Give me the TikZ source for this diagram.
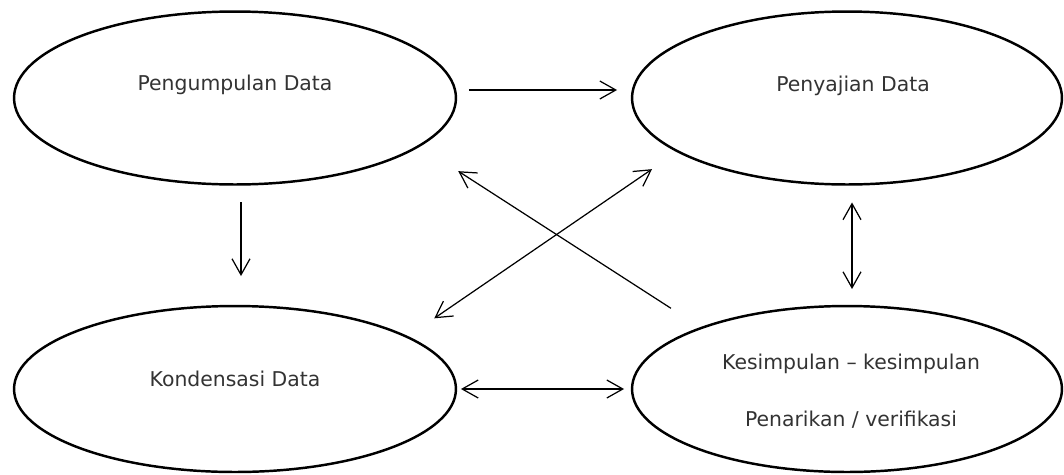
\documentclass[tikz,border=0pt]{standalone}
\usepackage{fontspec}
\setmainfont{DejaVu Sans}
\usetikzlibrary{shapes.geometric, arrows.meta, calc, positioning}

\begin{document}
\begin{tikzpicture}[
		x=0.02cm, y=-0.02cm,
		>={Straight Barb[length=3.2mm,width=3.6mm]},
		proses/.style={ellipse, draw, line width=1.4pt, inner sep=0pt, outer sep=0pt},
		teks/.style={font=\fontsize{11.6}{13.5}\selectfont, text=black!80, align=center},
		panah/.style={->, line width=0.7pt}
		]
		
		\useasboundingbox (0,0) rectangle (1064,474);
		
		% ==========================================
		% ELLIPSES
		% ==========================================
		\node[proses, minimum width=8.84cm, minimum height=3.46cm] (kumpul) at (235,98) {};
		\node[proses, minimum width=8.6cm, minimum height=3.46cm] (sajian) at (847,98) {};
		\node[proses, minimum width=8.84cm, minimum height=3.32cm] (kondensasi) at (235,389) {};
		\node[proses, minimum width=8.6cm, minimum height=3.32cm] (simpulan) at (847,389) {};
		
		% Labels
		\node[teks] (tkumpul) at (235,85) {Pengumpulan Data};
		\node[teks] (tsajian) at (853,86) {Penyajian Data};
		\node[teks] (tkondensasi) at (235,379) {Kondensasi Data};
		\node[teks] (tsimpulan) at (851,391) {Kesimpulan – kesimpulan\\[0.67cm]Penarikan / verifikasi};
		
		% ==========================================
		% ARROWS
		% ==========================================
		\draw[panah] ($(kumpul.east)+(13,-8)$) -- ($(sajian.west)+(-15,-8)$);
		\draw[panah] ($(kumpul.south)+(6,18)$) -- ($(kondensasi.north)+(6,-30)$);
		\draw[panah, <->] ($(sajian.south)+(5,18)$) -- ($(simpulan.north)+(5,-17)$);
		\draw[panah, <->] ($(kondensasi.east)+(5,0)$) -- ($(simpulan.west)+(-8,0)$);
		
		% Diagonals
		\draw[panah] ($(simpulan.north west)+(-24,-22)$) -- ($(kumpul.south east)+(67,12)$);
		\draw[panah, <->] ($(kondensasi.north east)+(43,-12)$) -- ($(sajian.south west)+(-43,10)$);
		
	\end{tikzpicture}
\end{document}
